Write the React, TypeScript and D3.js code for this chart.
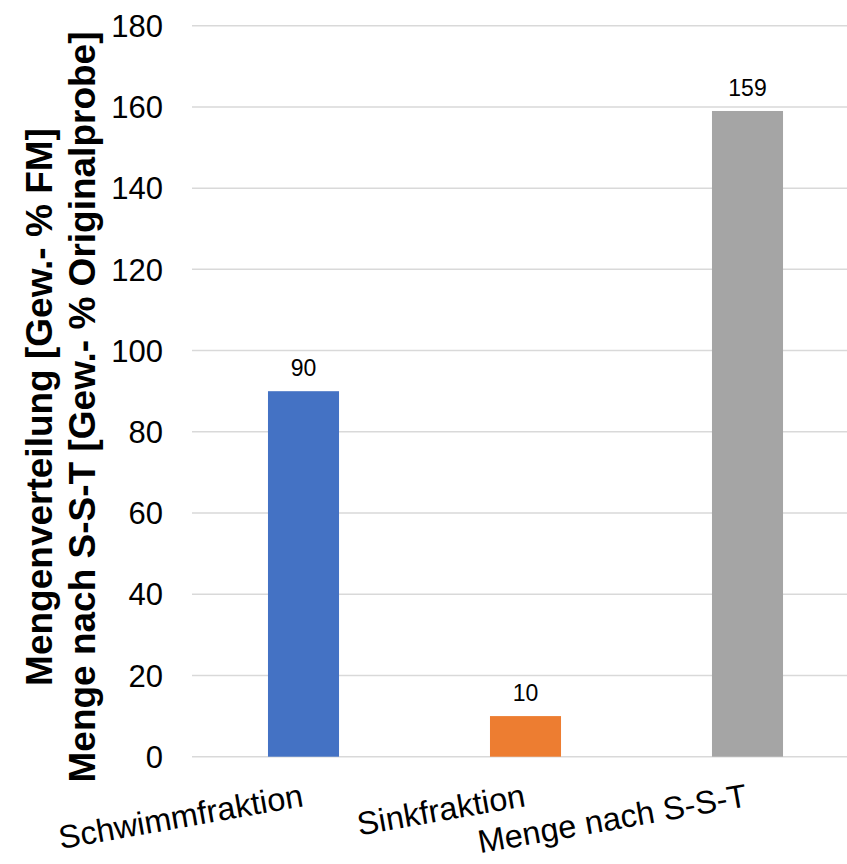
import React from "react";
import * as d3 from "d3";

const categories: string[] = ["Schwimmfraktion", "Sinkfraktion", "Menge nach S-S-T"];
const values: number[] = [90, 10, 159];
const colors: string[] = ["#4472C4", "#ED7D31", "#A5A5A5"];
const yTicks: number[] = [0, 20, 40, 60, 80, 100, 120, 140, 160, 180];
const titleLines: string[] = [
  "Mengenverteilung [Gew.- % FM]",
  "Menge nach S-S-T [Gew.- % Originalprobe]",
];

const W = 847;
const H = 864;
const FONT = "'Liberation Sans', Arial, sans-serif";

export default function App() {
  const y = d3.scaleLinear().domain([0, 180]).range([756.7, 25.7]);
  const x = d3
    .scaleBand<string>()
    .domain(categories)
    .range([192.5, 858.5])
    .paddingInner(0.68)
    .paddingOuter(0.34);
  const bw = x.bandwidth();
  const titleCy = 407;

  return (
    <svg
      width={W}
      height={H}
      style={{ position: "absolute", left: 0, top: 0, display: "block", background: "#fff" }}
      fontFamily={FONT}
    >
      <rect x={0} y={0} width={W} height={H} fill="#fff" />
      {yTicks.map((t) => (
        <g key={t}>
          <line x1={192} x2={W} y1={y(t)} y2={y(t)} stroke="#D9D9D9" strokeWidth={1.5} />
          <text x={163} y={y(t)} dy="0.36em" textAnchor="end" fontSize={31} fill="#000">
            {t}
          </text>
        </g>
      ))}
      {categories.map((c, i) => {
        const x0 = x(c) as number;
        const cx = x0 + bw / 2;
        return (
          <g key={c}>
            <rect x={x0} y={y(values[i])} width={bw} height={y(0) - y(values[i])} fill={colors[i]} />
            <text x={cx} y={y(values[i]) - 15} textAnchor="middle" fontSize={23} fill="#000">
              {values[i]}
            </text>
            <text
              transform={`translate(${cx + 1},806) rotate(-10)`}
              textAnchor="end"
              fontSize={32.5}
              fill="#000"
            >
              {c}
            </text>
          </g>
        );
      })}
      {titleLines.map((t, i) => (
        <text
          key={t}
          transform={`translate(${i === 0 ? 52 : 95},${titleCy}) rotate(-90)`}
          textAnchor="middle"
          fontSize={37}
          fontWeight="bold"
          fill="#000"
        >
          {t}
        </text>
      ))}
    </svg>
  );
}
